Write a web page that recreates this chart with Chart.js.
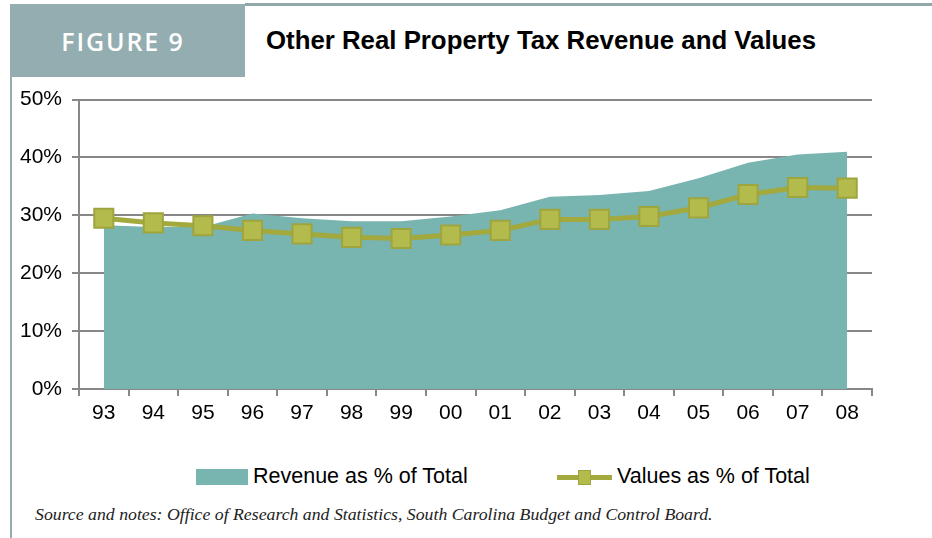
<!DOCTYPE html>
<html>
<head>
<meta charset="utf-8">
<script src="https://cdn.jsdelivr.net/npm/chart.js@4/dist/chart.umd.min.js"></script>
<style>
  body { margin: 0; width: 932px; height: 538px; background: #fff; position: relative; overflow: hidden; font-family: "Liberation Sans", Arial, sans-serif; }
  #topline { position: absolute; left: 245px; top: 3px; width: 687px; height: 3px; background: #8fa9ab; }
  #leftline { position: absolute; left: 10px; top: 77px; width: 2px; height: 461px; background: #94acae; }
  #figbox { position: absolute; left: 10px; top: 4px; width: 226px; padding-right: 9px; height: 73px; background: #94adb0; color: #fff;
    font-family: "Open Sans", sans-serif; font-weight: 600; font-size: 25px; letter-spacing: 1.9px; line-height: 75px; text-align: center; }
  #title { position: absolute; left: 266px; top: 26px; font-weight: bold; font-size: 25.8px; color: #000; white-space: nowrap; }
  #wrap { position: absolute; left: 0; top: 77px; width: 932px; height: 363px; }
  .leg { position: absolute; top: 464px; font-size: 21.5px; color: #000; white-space: nowrap; line-height: 24px; }
  #source { position: absolute; left: 35px; top: 504px; font-family: "Liberation Serif", serif; font-style: italic; font-size: 17.75px; color: #222; white-space: nowrap; }
</style>
</head>
<body>
<div id="topline"></div>
<div id="leftline"></div>
<div id="figbox">FIGURE 9</div>
<div id="title">Other Real Property Tax Revenue and Values</div>
<div id="wrap"><canvas id="myChart"></canvas></div>
<div class="leg" style="left:196px;">
  <span style="display:inline-block;width:52px;height:16px;background:#78b4b0;vertical-align:-2px;margin-right:5px;"></span>Revenue as % of Total
</div>
<div class="leg" style="left:557px;">
  <span style="display:inline-block;position:relative;width:55px;height:16px;vertical-align:-2px;margin-right:5px;">
    <span style="position:absolute;left:0;top:6px;width:55px;height:5px;background:#a3a93d;"></span>
    <span style="position:absolute;left:21px;top:1px;width:11px;height:13px;background:#b3bb4c;border:1px solid #9fa53e;"></span>
  </span>Values as % of Total
</div>
<div id="source">Source and notes: Office of Research and Statistics, South Carolina Budget and Control Board.</div>
<script>
(() => {
  const years = ['93','94','95','96','97','98','99','00','01','02','03','04','05','06','07','08'];
  const revenue = [28.3, 28.0, 28.0, 30.3, 29.5, 29.0, 29.0, 29.8, 30.9, 33.2, 33.5, 34.2, 36.4, 39.1, 40.5, 41.0];
  const values = [29.5, 28.7, 28.2, 27.4, 26.8, 26.2, 26.0, 26.6, 27.4, 29.3, 29.3, 29.8, 31.3, 33.6, 34.8, 34.7];
  const yTicks = [0, 10, 20, 30, 40, 50];

  const gridColor = '#878787';
  const tickFont = { family: '"Liberation Sans", Arial, sans-serif', size: 21 };

  new Chart('myChart', {
    type: 'line',
    data: {
      labels: years,
      datasets: [{
        label: 'Values as % of Total',
        data: values,
        order: 1,
        borderColor: '#a3a93d',
        borderWidth: 5,
        pointStyle: 'rect',
        pointRadius: 13.5,
        pointHoverRadius: 13.5,
        pointBackgroundColor: '#b3bb4c',
        pointBorderColor: '#9fa53e',
        pointBorderWidth: 2,
        tension: 0,
        fill: false,
      },
      {
        label: 'Revenue as % of Total',
        data: revenue,
        order: 2,
        borderWidth: 0,
        borderColor: 'rgba(0,0,0,0)',
        backgroundColor: '#78b4b0',
        pointRadius: 0,
        tension: 0,
        fill: 'origin',
      }],
    },
    options: {
      responsive: true,
      maintainAspectRatio: false,
      animation: false,
      layout: { padding: { left: 0, right: 60, top: 16, bottom: 0 } },
      plugins: { legend: { display: false }, tooltip: { enabled: false } },
      scales: {
        x: {
          offset: true,
          afterFit: s => { s.height = 51; },
          grid: { display: true, drawOnChartArea: false, drawTicks: true, tickLength: 7, color: gridColor, lineWidth: 2, offset: true },
          border: { display: true, color: gridColor, width: 2 },
          ticks: { color: '#000', font: tickFont, padding: 5, maxRotation: 0 },
        },
        y: {
          min: 0,
          max: 50,
          afterFit: s => { s.width = 79; },
          afterBuildTicks: s => { s.ticks = yTicks.map(v => ({ value: v })); },
          grid: { color: gridColor, lineWidth: 2, tickLength: 7 },
          border: { display: true, color: gridColor, width: 2 },
          ticks: { color: '#000', font: tickFont, padding: 10, callback: v => v + '%' },
        },
      },
    },
  });
})();
</script>
</body>
</html>
